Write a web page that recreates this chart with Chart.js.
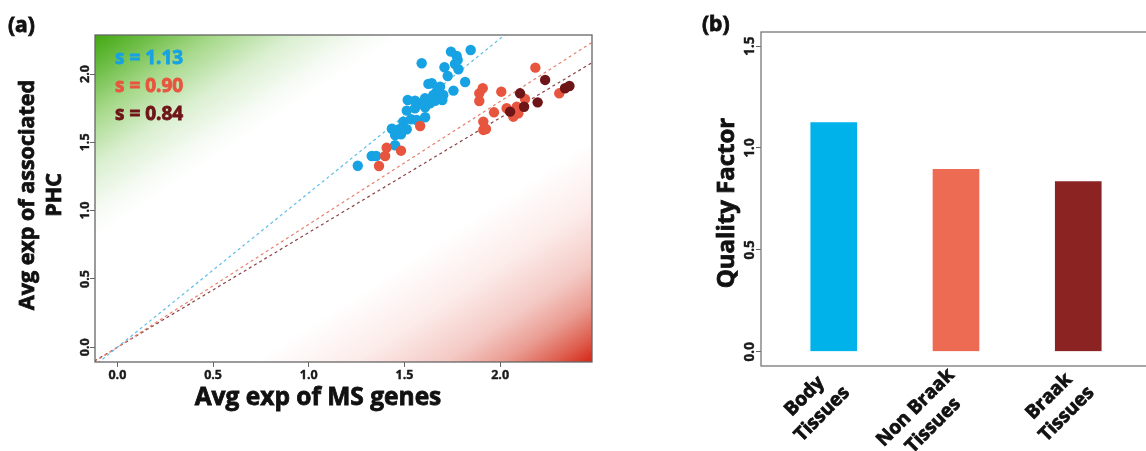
<!DOCTYPE html>
<html lang="en">
<head>
<meta charset="UTF-8">
<title>MS genes vs PHC</title>
<script src="https://cdn.jsdelivr.net/npm/chart.js"></script>
<style>
    html, body {
        margin: 0;
        padding: 0;
        background: #fff;
        overflow: hidden;
    }
    body {
        width: 1146px;
        height: 451px;
        position: relative;
    }
    #scatter {
        position: absolute;
        left: 0;
        top: 0;
    }
    #bars {
        position: absolute;
        left: 690px;
        top: 0;
    }
</style>
</head>
<body>

<canvas id="scatter" width="620" height="451"></canvas>
<canvas id="bars" width="470" height="451"></canvas>

<script>
    const FONT = "'Open Sans', 'Noto Sans', sans-serif";

    // (a) scatter: average expression
    const bodyX = [1.743, 1.773, 1.846, 1.590, 1.709, 1.764, 1.782, 1.778, 1.726, 1.817,
                   1.756, 1.643, 1.686, 1.669, 1.651, 1.703, 1.660, 1.698, 1.517, 1.555,
                   1.608, 1.634, 1.512, 1.555, 1.608, 1.494, 1.534, 1.564, 1.608, 1.434,
                   1.472, 1.512, 1.451, 1.482, 1.451, 1.329, 1.352, 1.256, 1.582, 1.625];
    const bodyY = [2.164, 2.133, 2.176, 2.079, 2.050, 2.074, 2.035, 2.103, 1.986, 1.942,
                   1.879, 1.933, 1.908, 1.871, 1.847, 1.847, 1.805, 1.810, 1.810, 1.805,
                   1.823, 1.786, 1.732, 1.750, 1.757, 1.652, 1.669, 1.664, 1.684, 1.600,
                   1.596, 1.596, 1.554, 1.559, 1.479, 1.400, 1.400, 1.329, 1.786, 1.928];

    const nonBraakX = [1.582, 1.407, 1.482, 1.399, 1.367, 2.184, 1.909, 1.891, 1.891, 2.006,
                       2.130, 1.968, 2.034, 2.087, 2.095, 2.069, 2.309, 1.912, 1.912, 1.926];
    const nonBraakY = [1.620, 1.461, 1.439, 1.400, 1.327, 2.047, 1.896, 1.859, 1.803, 1.871,
                       1.818, 1.720, 1.750, 1.761, 1.713, 1.688, 1.859, 1.652, 1.591, 1.598];

    const braakX = [2.235, 2.104, 2.125, 2.196, 2.052, 2.339, 2.362];
    const braakY = [1.957, 1.859, 1.761, 1.793, 1.725, 1.896, 1.913];

    // fitted slopes (lines through the origin)
    const slopeLabels = ['s = 1.13', 's = 0.90', 's = 0.84'];
    const slopes = [1.13, 0.90, 0.84];
    const lineEndsX = [-0.2, 2.6];

    const scatterTicks = [0, 0.5, 1.0, 1.5, 2.0];

    // (b) bars
    const categories = [['Body', 'Tissues'], ['Non Braak', 'Tissues'], ['Braak', 'Tissues']];
    const qualityFactor = [1.13, 0.90, 0.84];
    const barTicks = [0, 0.5, 1.0, 1.5];

    const pointColors = ['#16a2e3', '#e8553e', '#6e1518'];
    const lineColors = ['#5cbde9', '#e8806c', '#8a4242'];
    const barColors = ['#00b2ea', '#ed6a53', '#8b2323'];

    function toPoints(xs, ys) {
        return xs.map((x, i) => ({ x: x, y: ys[i] }));
    }

    function setTicks(values) {
        return function (scale) {
            scale.ticks = values.map(v => ({ value: v }));
        };
    }

    // bold text, slightly stroked so it reads as heavy as the original
    function text(ctx, str, x, y, size, color, rot, align) {
        ctx.save();
        ctx.translate(x, y);
        if (rot) ctx.rotate(rot);
        ctx.font = 'bold ' + size + 'px ' + FONT;
        ctx.fillStyle = color;
        ctx.strokeStyle = color;
        ctx.lineWidth = size > 16 ? 0.8 : 0.4;
        ctx.textAlign = align || 'center';
        ctx.textBaseline = 'middle';
        ctx.fillText(str, 0, 0);
        ctx.strokeText(str, 0, 0);
        ctx.restore();
    }

    // green / red diagonal background of panel (a)
    const backdrop = {
        id: 'backdrop',
        beforeDatasetsDraw(chart) {
            const a = chart.chartArea;
            const ctx = chart.ctx;
            ctx.save();
            ctx.translate(a.left, a.top);
            ctx.scale(a.right - a.left, a.bottom - a.top);
            const g = ctx.createLinearGradient(0, 0, 1, 1);
            g.addColorStop(0.00, 'rgb(66,168,16)');
            g.addColorStop(0.05, 'rgb(104,187,64)');
            g.addColorStop(0.12, 'rgb(165,216,136)');
            g.addColorStop(0.20, 'rgb(218,239,208)');
            g.addColorStop(0.27, 'rgb(246,251,244)');
            g.addColorStop(0.31, 'rgb(255,255,255)');
            g.addColorStop(0.66, 'rgb(255,255,255)');
            g.addColorStop(0.76, 'rgb(252,236,234)');
            g.addColorStop(0.85, 'rgb(244,202,197)');
            g.addColorStop(0.91, 'rgb(234,156,146)');
            g.addColorStop(0.96, 'rgb(222,96,80)');
            g.addColorStop(1.00, 'rgb(212,38,22)');
            ctx.fillStyle = g;
            ctx.fillRect(0, 0, 1, 1);
            ctx.restore();
        }
    };

    const scatterText = {
        id: 'scatterText',
        afterDraw(chart) {
            const ctx = chart.ctx;
            const a = chart.chartArea;
            ctx.save();
            ctx.strokeStyle = '#666';
            ctx.lineWidth = 1.3;
            ctx.strokeRect(a.left, a.top, a.right - a.left, a.bottom - a.top);
            ctx.restore();

            const ys = chart.scales.y;
            ys.ticks.forEach(t => {
                text(ctx, t.value.toFixed(1), 85, ys.getPixelForValue(t.value), 12.5, '#1a1a1a', -Math.PI / 2);
            });

            const xs = chart.scales.x;
            xs.ticks.forEach(t => {
                text(ctx, t.value.toFixed(1), xs.getPixelForValue(t.value), 375, 12.5, '#1a1a1a');
            });

            text(ctx, 'Avg exp of MS genes', 318, 398, 24.5, '#111');
            text(ctx, 'Avg exp of associated', 28, 195, 21.5, '#111', -Math.PI / 2);
            text(ctx, 'PHC', 55, 195, 21.5, '#111', -Math.PI / 2);

            slopeLabels.forEach((s, i) => {
                text(ctx, s, 115, 59 + i * 28, 19, pointColors[i], 0, 'left');
            });

            text(ctx, '(a)', 8, 26, 21, '#111', 0, 'left');
        }
    };

    const lineSets = slopes.map((s, i) => ({
        type: 'line',
        data: lineEndsX.map(x => ({ x: x, y: s * x })),
        borderColor: lineColors[i],
        borderWidth: 1.2,
        borderDash: [3, 3],
        pointRadius: 0,
        fill: false
    }));

    function dots(data, color) {
        return {
            data: data,
            backgroundColor: color,
            borderWidth: 0,
            pointRadius: 5.2,
            pointHoverRadius: 5.2
        };
    }

    new Chart(document.getElementById('scatter'), {
        type: 'scatter',
        data: {
            datasets: [
                dots(toPoints(braakX, braakY), pointColors[2]),
                dots(toPoints(nonBraakX, nonBraakY), pointColors[1]),
                dots(toPoints(bodyX, bodyY), pointColors[0])
            ].concat(lineSets)
        },
        options: {
            responsive: false,
            animation: false,
            layout: { padding: { left: 0, top: 35, right: 28, bottom: 0 } },
            plugins: { legend: { display: false }, tooltip: { enabled: false } },
            scales: {
                x: {
                    type: 'linear',
                    min: -0.117,
                    max: 2.48,
                    afterBuildTicks: setTicks(scatterTicks),
                    afterFit(scale) { scale.height = 89; },
                    border: { display: false },
                    grid: { drawOnChartArea: false, tickLength: 5, color: '#666' },
                    ticks: { display: false }
                },
                y: {
                    type: 'linear',
                    min: -0.108,
                    max: 2.286,
                    afterBuildTicks: setTicks(scatterTicks),
                    afterFit(scale) { scale.width = 95; },
                    border: { display: false },
                    grid: { drawOnChartArea: false, tickLength: 5, color: '#666' },
                    ticks: { display: false }
                }
            }
        },
        plugins: [backdrop, scatterText]
    });

    const barText = {
        id: 'barText',
        afterDraw(chart) {
            const ctx = chart.ctx;
            const a = chart.chartArea;
            ctx.save();
            ctx.strokeStyle = '#777';
            ctx.lineWidth = 1.3;
            ctx.strokeRect(a.left, a.top, a.right - a.left, a.bottom - a.top);
            ctx.restore();

            const ys = chart.scales.y;
            ys.ticks.forEach(t => {
                text(ctx, t.value.toFixed(1), 60, ys.getPixelForValue(t.value), 13.5, '#1a1a1a', -Math.PI / 2);
            });

            text(ctx, 'Quality Factor', 37, 203, 24, '#111', -Math.PI / 2);

            const xs = chart.scales.x;
            const c = Math.SQRT1_2;
            categories.forEach((lines, i) => {
                const px = xs.getPixelForValue(i + 1) + 4;
                const py = 381;
                ctx.font = 'bold 19px ' + FONT;
                const w = Math.max(...lines.map(l => ctx.measureText(l).width));
                lines.forEach((l, j) => {
                    // each line centred inside the block, block right end at the tick
                    const u = -w / 2;
                    const v = (j - (lines.length - 1) / 2) * 25;
                    text(ctx, l, px + c * u + c * v, py - c * u + c * v, 19, '#111', -Math.PI / 4);
                });
            });

            text(ctx, '(b)', 12, 25, 21, '#111', 0, 'left');
        }
    };

    new Chart(document.getElementById('bars'), {
        type: 'bar',
        data: {
            datasets: [{
                data: qualityFactor.map((v, i) => ({ x: i + 1, y: v })),
                backgroundColor: barColors,
                borderColor: 'rgba(255,255,255,0.45)',
                borderWidth: 1,
                barThickness: 48
            }]
        },
        options: {
            responsive: false,
            animation: false,
            layout: { padding: { left: 0, top: 32, right: 9, bottom: 0 } },
            plugins: { legend: { display: false }, tooltip: { enabled: false } },
            scales: {
                x: {
                    type: 'linear',
                    offset: false,
                    min: 0.405,
                    max: 3.595,
                    afterFit(scale) { scale.height = 85; },
                    border: { display: false },
                    grid: { display: false },
                    ticks: { display: false }
                },
                y: {
                    type: 'linear',
                    min: -0.07,
                    max: 1.569,
                    afterBuildTicks: setTicks(barTicks),
                    afterFit(scale) { scale.width = 71; },
                    border: { display: false },
                    grid: { drawOnChartArea: false, tickLength: 5, color: '#666' },
                    ticks: { display: false }
                }
            }
        },
        plugins: [barText]
    });
</script>
</body>
</html>
